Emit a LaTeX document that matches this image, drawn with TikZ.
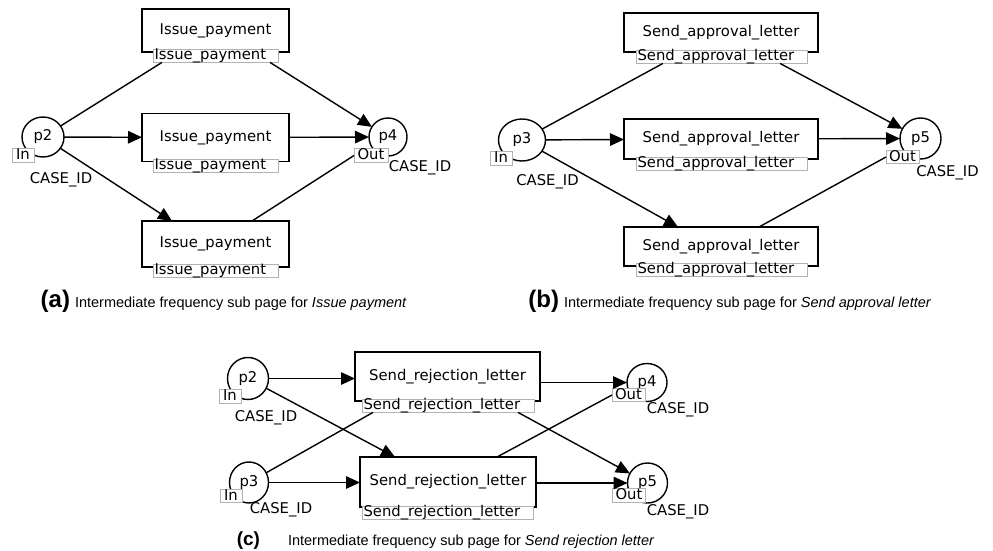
\documentclass[tikz,border=0pt]{standalone}
\usepackage{fontspec}
\setmainfont{Liberation Sans}
\newfontfamily\dvs{DejaVu Sans}
\usetikzlibrary{arrows.meta,shapes.geometric}
\begin{document}
\begin{tikzpicture}[x=1pt,y=-1pt,
  every node/.style={inner sep=0pt, outer sep=0pt},
  nfont/.style={font=\dvs\fontsize{14.8}{16}\selectfont},
  trans/.style={nfont, draw, line width=1.8pt, fill=white},
  place/.style={nfont, draw, ellipse, line width=1.4pt, fill=white},
  tag/.style={nfont, draw=gray!60, line width=0.8pt, fill=white, inner xsep=1.5pt, inner ysep=0.3pt, text height=10.5pt, text depth=2.3pt},
  lab/.style={tag, anchor=north west, text width=#1, align=left},
  arr/.style={line width=1.4pt, -{Triangle[length=14pt,width=12.5pt]}},
  ln/.style={line width=1.4pt},
  cid/.style={nfont},
  captxt/.style={font=\fontsize{14.5}{17}\selectfont, anchor=base west},
  capletter/.style={font=\bfseries\fontsize{24}{27}\selectfont, anchor=base east}
]
\useasboundingbox (0,0) rectangle (993,551);

% ---------------- (a) ----------------
\node[trans, minimum width=147, minimum height=43] (at1) at (215.5,30.5) {Issue\_payment};
\node[trans, minimum width=147, minimum height=48] (at2) at (215.5,137.5) {Issue\_payment};
\node[trans, minimum width=147, minimum height=46] (at3) at (215.5,244) {Issue\_payment};
\node[lab=122pt] (at1l) at (153,49) {Issue\_payment};
\node[lab=122pt] (at2l) at (153,159) {Issue\_payment};
\node[lab=122pt] (at3l) at (153,264) {Issue\_payment};
\node[place, minimum width=42, minimum height=40] (ap2) at (43,137) {p2};
\node[place, minimum width=38, minimum height=38] (ap4) at (388,137) {p4};
\node[tag, minimum width=22] (ain) at (23,155.5) {In};
\node[tag, minimum width=34] (aout) at (371,155.5) {Out};
\node[cid] (acid2) at (61,180) {CASE\_ID};
\node[cid] (acid4) at (420,168) {CASE\_ID};
\draw[ln] (ap2) -- ([xshift=9pt]at1l.south west);
\draw[arr] ([xshift=-8pt]at1l.south east) -- (ap4);
\draw[arr] (ap2) -- (at2);
\draw[arr] (at2) -- (ap4);
\draw[arr] (ap2) -- ([xshift=30pt]at3.north west);
\draw[ln] ([xshift=110pt]at3.north west) -- (aout.west);
\node[capletter] (acapl) at (70,307) {(a)};
\node[captxt] (acapt) at (75,307) {Intermediate frequency sub page for \textit{Issue payment}};

% ---------------- (b) ----------------
\node[trans, minimum width=194, minimum height=39] (bt1) at (721,32.5) {Send\_approval\_letter};
\node[trans, minimum width=194, minimum height=40] (bt2) at (721,139) {Send\_approval\_letter};
\node[trans, minimum width=194, minimum height=39] (bt3) at (721,246.5) {Send\_approval\_letter};
\node[lab=168pt] (bt1l) at (636,50) {Send\_approval\_letter};
\node[lab=168pt] (bt2l) at (636,157) {Send\_approval\_letter};
\node[lab=168pt] (bt3l) at (636,263) {Send\_approval\_letter};
\node[place, minimum width=47, minimum height=42] (bp3) at (522,140) {p3};
\node[place, minimum width=41, minimum height=41] (bp5) at (920.5,138.5) {p5};
\node[tag, minimum width=22] (bin) at (501,158.5) {In};
\node[tag, minimum width=33] (bout) at (902.5,157) {Out};
\node[cid] (bcid3) at (547.5,182) {CASE\_ID};
\node[cid] (bcid5) at (947.5,173) {CASE\_ID};
\draw[ln] (bp3) -- ([xshift=27pt]bt1l.south west);
\draw[arr] ([xshift=-27pt]bt1l.south east) -- (bp5);
\draw[arr] (bp3) -- (bt2);
\draw[arr] (bt2) -- (bp5);
\draw[arr] (bp3) -- ([xshift=54pt]bt3.north west);
\draw[ln] ([xshift=135pt]bt3.north west) -- (bout.west);
\node[capletter] (bcapl) at (559,307) {(b)};
\node[captxt] (bcapt) at (564,307) {Intermediate frequency sub page for \textit{Send approval letter}};

% ---------------- (c) ----------------
\node[trans, minimum width=185, minimum height=49] (ct1) at (447.5,376.5) {Send\_rejection\_letter};
\node[trans, minimum width=176, minimum height=50] (ct3) at (448,482) {Send\_rejection\_letter};
\node[lab=169pt] (ct1l) at (362,399) {Send\_rejection\_letter};
\node[lab=168pt] (ct3l) at (362,506) {Send\_rejection\_letter};
\node[place, minimum width=41, minimum height=42] (cp2) at (248,378.5) {p2};
\node[place, minimum width=39, minimum height=41] (cp3) at (249,482.5) {p3};
\node[place, minimum width=40, minimum height=38] (cp4) at (647,382.5) {p4};
\node[place, minimum width=40, minimum height=40] (cp5) at (647.5,483) {p5};
\node[tag, minimum width=22] (cin2) at (230,396.5) {In};
\node[tag, minimum width=22] (cin3) at (231,496) {In};
\node[tag, minimum width=33] (cout4) at (628.5,395) {Out};
\node[tag, minimum width=33] (cout5) at (629,495.5) {Out};
\node[cid] (ccid2) at (266,418) {CASE\_ID};
\node[cid] (ccid3) at (281,510) {CASE\_ID};
\node[cid] (ccid4) at (678,410) {CASE\_ID};
\node[cid] (ccid5) at (678,512) {CASE\_ID};
\draw[arr] (cp2) -- (cp2 -| ct1.west);
\draw[arr] (ct1.east |- cp4) -- (cp4);
\draw[arr] (cp3) -- (cp3 -| ct3.west);
\draw[arr] (ct3.east |- cp5) -- (cp5);
\draw[arr] (cp2) -- ([xshift=35pt]ct3.north west);
\draw[arr] ([xshift=-16pt]ct1l.south east) -- (cp5);
\draw[ln] (cp3) -- ([xshift=11pt]ct1l.south west);
\draw[ln] ([xshift=137pt]ct3.north west) -- (cout4.west);
\node[capletter, font=\bfseries\fontsize{19}{22}\selectfont] (ccapl) at (260,545) {(c)};
\node[captxt] (ccapt) at (288,545) {Intermediate frequency sub page for \textit{Send rejection letter}};
\end{tikzpicture}
\end{document}
